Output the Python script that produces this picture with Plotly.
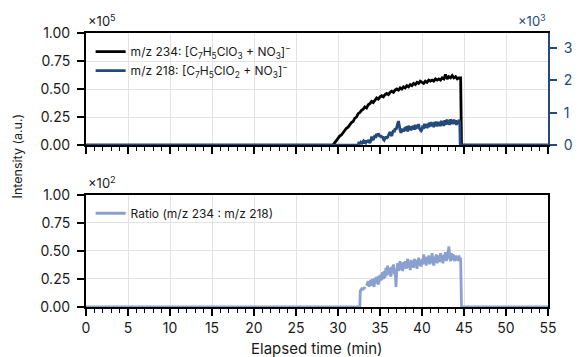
import plotly.graph_objects as go

# ---------------- data ----------------
black_t = [0, 29.4, 29.6, 29.8,
           30.0, 30.2, 30.4, 30.6, 30.8,
           31.0, 31.2, 31.4, 31.6, 31.8,
           32.0, 32.2, 32.4, 32.6, 32.8,
           33.0, 33.2, 33.4, 33.6, 33.8,
           34.0, 34.2, 34.4, 34.6, 34.8,
           35.0, 35.2, 35.4, 35.6, 35.8,
           36.0, 36.2, 36.4, 36.6, 36.8,
           37.0, 37.2, 37.4, 37.6, 37.8,
           38.0, 38.2, 38.4, 38.6, 38.8,
           39.0, 39.2, 39.4, 39.6, 39.8,
           40.0, 40.2, 40.4, 40.6, 40.8,
           41.0, 41.2, 41.4, 41.6, 41.8,
           42.0, 42.2, 42.4, 42.6, 42.8,
           43.0, 43.2, 43.4, 43.6, 43.8,
           44.0, 44.2, 44.4, 44.6, 44.7, 55]
black_v = [0, 0.0, 0.02, 0.04,
           0.06, 0.08, 0.09, 0.11, 0.13,
           0.15, 0.16, 0.18, 0.20, 0.21,
           0.24, 0.25, 0.28, 0.29, 0.31,
           0.32, 0.34, 0.33, 0.36, 0.37,
           0.39, 0.38, 0.40, 0.42, 0.41,
           0.43, 0.44, 0.43, 0.45, 0.46,
           0.45, 0.47, 0.48, 0.47, 0.49,
           0.50, 0.49, 0.51, 0.50, 0.52,
           0.51, 0.53, 0.52, 0.54, 0.53,
           0.55, 0.54, 0.56, 0.55, 0.57,
           0.56, 0.55, 0.57, 0.56, 0.58,
           0.57, 0.58, 0.57, 0.59, 0.58,
           0.59, 0.58, 0.60, 0.59, 0.63,
           0.59, 0.61, 0.60, 0.62, 0.60,
           0.61, 0.59, 0.60, 0.60, 0.0, 0.0]

blue_t = [0, 32.4, 32.5, 32.6, 32.7, 32.8, 32.9,
          33.0, 33.1, 33.2, 33.3, 33.4, 33.5, 33.6, 33.7, 33.8, 33.9,
          34.0, 34.1, 34.2, 34.3, 34.4, 34.5, 34.6, 34.7, 34.8, 34.9,
          35.0, 35.1, 35.2, 35.3, 35.4, 35.5, 35.6, 35.7, 35.8, 35.9,
          36.0, 36.1, 36.2, 36.3, 36.4, 36.5, 36.6, 36.7, 36.8, 36.9,
          37.0, 37.1, 37.2, 37.3, 37.4, 37.5, 37.6, 37.7, 37.8, 37.9,
          38.0, 38.1, 38.2, 38.3, 38.4, 38.5, 38.6, 38.7, 38.8, 38.9,
          39.0, 39.1, 39.2, 39.3, 39.4, 39.5, 39.6, 39.7, 39.8, 39.9,
          40.0, 40.1, 40.2, 40.3, 40.4, 40.5, 40.6, 40.7, 40.8, 40.9,
          41.0, 41.1, 41.2, 41.3, 41.4, 41.5, 41.6, 41.7, 41.8, 41.9,
          42.0, 42.1, 42.2, 42.3, 42.4, 42.5, 42.6, 42.7, 42.8, 42.9,
          43.0, 43.1, 43.2, 43.3, 43.4, 43.5, 43.6, 43.7, 43.8, 43.9,
          44.0, 44.1, 44.2, 44.3, 44.4, 44.5, 44.55, 55]
blue_v = [0, 0.0, 0.10, 0.04, 0.08, 0.03, 0.09,
          0.12, 0.05, 0.10, 0.07, 0.14, 0.08, 0.16, 0.11, 0.06, 0.13,
          0.26, 0.19, 0.15, 0.24, 0.30, 0.22, 0.35, 0.28, 0.36, 0.30,
          0.25, 0.31, 0.22, 0.27, 0.18, 0.15, 0.21, 0.26, 0.20, 0.24,
          0.30, 0.36, 0.40, 0.32, 0.28, 0.38, 0.46, 0.40, 0.52, 0.47,
          0.55, 0.66, 0.74, 0.60, 0.45, 0.38, 0.44, 0.50, 0.42, 0.48,
          0.55, 0.44, 0.58, 0.42, 0.60, 0.47, 0.56, 0.45, 0.59, 0.50,
          0.60, 0.47, 0.63, 0.50, 0.62, 0.52, 0.65, 0.51, 0.47, 0.44,
          0.48, 0.60, 0.50, 0.66, 0.54, 0.64, 0.52, 0.67, 0.55, 0.70,
          0.57, 0.71, 0.58, 0.69, 0.55, 0.71, 0.59, 0.73, 0.57, 0.70,
          0.60, 0.72, 0.58, 0.75, 0.62, 0.73, 0.59, 0.77, 0.63, 0.74,
          0.78, 0.64, 0.76, 0.62, 0.80, 0.66, 0.77, 0.64, 0.79, 0.66,
          0.77, 0.62, 0.75, 0.65, 0.78, 0.70, 0.0, 0.0]

ratio_t = [0, 32.6, 32.65, 32.7, 32.8, 32.9,
           33.0, 33.1, 33.2, 33.3, 33.4, 33.5, 33.6, 33.7, 33.8, 33.9,
           34.0, 34.1, 34.2, 34.3, 34.4, 34.5, 34.6, 34.7, 34.8, 34.9,
           35.0, 35.1, 35.2, 35.3, 35.4, 35.5, 35.6, 35.7, 35.8, 35.9,
           36.0, 36.1, 36.2, 36.3, 36.4, 36.5, 36.6, 36.7, 36.8, 36.9,
           37.0, 37.1, 37.2, 37.3, 37.4, 37.5, 37.6, 37.7, 37.8, 37.9,
           38.0, 38.1, 38.2, 38.3, 38.4, 38.5, 38.6, 38.7, 38.8, 38.9,
           39.0, 39.1, 39.2, 39.3, 39.4, 39.5, 39.6, 39.7, 39.8, 39.9,
           40.0, 40.1, 40.2, 40.3, 40.4, 40.5, 40.6, 40.7, 40.8, 40.9,
           41.0, 41.1, 41.2, 41.3, 41.4, 41.5, 41.6, 41.7, 41.8, 41.9,
           42.0, 42.1, 42.2, 42.3, 42.4, 42.5, 42.6, 42.7, 42.8, 42.9,
           43.0, 43.1, 43.2, 43.3, 43.4, 43.5, 43.6, 43.7, 43.8, 43.9,
           44.0, 44.1, 44.2, 44.3, 44.4, 44.5, 44.6, 44.7, 55]
ratio_v = [0, 0, 0.14, 0.15, 0.16, 0.15,
           0.17, 0.16, 0.18, None, 0.19, 0.21, 0.23, 0.18, 0.22, 0.24,
           0.19, 0.25, 0.21, 0.18, 0.26, 0.21, 0.27, 0.22, 0.20, 0.28,
           0.23, 0.29, 0.24, 0.31, 0.25, 0.32, 0.26, 0.35, 0.28, 0.37,
           0.29, 0.35, 0.30, 0.27, 0.36, 0.31, 0.38, 0.29, 0.34, 0.18,
           0.33, 0.39, 0.32, 0.38, 0.41, 0.33, 0.39, 0.32, 0.40, 0.35,
           0.41, 0.34, 0.39, 0.43, 0.35, 0.40, 0.33, 0.42, 0.36, 0.41,
           0.35, 0.43, 0.37, 0.42, 0.34, 0.40, 0.44, 0.37, 0.41, 0.36,
           0.43, 0.38, 0.47, 0.39, 0.45, 0.37, 0.44, 0.40, 0.46, 0.38,
           0.45, 0.39, 0.48, 0.41, 0.37, 0.45, 0.40, 0.47, 0.39, 0.44,
           0.46, 0.40, 0.48, 0.41, 0.45, 0.39, 0.47, 0.42, 0.49, 0.41,
           0.45, 0.48, 0.54, 0.44, 0.41, 0.48, 0.42, 0.47, 0.43, 0.41,
           0.46, 0.42, 0.45, 0.41, 0.46, 0.42, 0.44, 0.0, 0.0]

x_ticks = [0, 5, 10, 15, 20, 25, 30, 35, 40, 45, 50, 55]
y_ticks = [0.0, 0.25, 0.5, 0.75, 1.0]
y_ticktext = ["0.00", "0.25", "0.50", "0.75", "1.00"]
y2_ticks = [0, 1, 2, 3]

name_234 = "m/z 234: [C<sub>7</sub>H<sub>5</sub>ClO<sub>3</sub> + NO<sub>3</sub>]<sup>−</sup>"
name_218 = "m/z 218: [C<sub>7</sub>H<sub>5</sub>ClO<sub>2</sub> + NO<sub>3</sub>]<sup>−</sup>"
name_ratio = "Ratio (m/z 234 : m/z 218)"

# ---------------- style ----------------
FONT = "Inter"
BLACK = "#000000"
DARK = "#234a7b"
LIGHT = "#8aa0cf"
GRID = "#e3e3e3"
LW = 2.8

fig = go.Figure()
fig.add_trace(go.Scatter(x=black_t, y=black_v, mode="lines", name=name_234,
                         line=dict(color=BLACK, width=LW, simplify=False),
                         xaxis="x", yaxis="y", legend="legend"))
fig.add_trace(go.Scatter(x=blue_t, y=blue_v, mode="lines", name=name_218,
                         line=dict(color=DARK, width=LW, simplify=False),
                         xaxis="x", yaxis="y2", legend="legend"))
fig.add_trace(go.Scatter(x=ratio_t, y=ratio_v, mode="lines", name=name_ratio,
                         line=dict(color=LIGHT, width=LW, simplify=False),
                         xaxis="x2", yaxis="y3", legend="legend2", connectgaps=False))

xcommon = dict(range=[0, 55], tickvals=x_ticks, showgrid=True, gridcolor=GRID,
               gridwidth=1, showline=True, linecolor=BLACK, linewidth=2,
               mirror=True, ticks="outside", ticklen=7, tickwidth=1.5,
               tickcolor=BLACK, zeroline=False, tickfont=dict(size=14),
               minor=dict(dtick=1, ticks="outside", ticklen=3.5, tickwidth=1.2,
                          tickcolor=BLACK, showgrid=False))
ycommon = dict(range=[0, 1.0], tickvals=y_ticks, ticktext=y_ticktext,
               showgrid=True, gridcolor=GRID, gridwidth=1, showline=True,
               linecolor=BLACK, linewidth=2, ticks="outside", ticklen=7,
               tickwidth=1.5, tickcolor=BLACK, zeroline=False, ticklabelstandoff=4,
               tickfont=dict(size=14))

top_dom = [0.591, 1.0]
bot_dom = [0.0, 0.409]

fig.update_layout(
    width=585, height=357,
    margin=dict(l=86, r=23, t=33, b=50),
    paper_bgcolor="white", plot_bgcolor="white",
    font=dict(family=FONT, size=13, color="#1a1a1a"),
    xaxis=dict(domain=[0, 1], anchor="y", showticklabels=False, **xcommon),
    xaxis2=dict(domain=[0, 1], anchor="y3", showticklabels=True, **xcommon),
    yaxis=dict(domain=top_dom, anchor="x", mirror=False, **ycommon),
    yaxis2=dict(domain=top_dom, anchor="x", overlaying="y", side="right",
                range=[0, 3.46], tickvals=y2_ticks, showgrid=False,
                showline=True, linecolor=DARK, linewidth=2, ticks="outside",
                ticklen=7, tickwidth=1.5, tickcolor=DARK, zeroline=False,
                tickfont=dict(color=DARK, size=14), ticklabelstandoff=4),
    yaxis3=dict(domain=bot_dom, anchor="x2", mirror=True, **ycommon),
    legend=dict(x=0.01, y=0.985, xanchor="left", yanchor="top",
                bgcolor="rgba(0,0,0,0)", font=dict(size=12, family=FONT),
                itemwidth=30, tracegroupgap=0),
    legend2=dict(x=0.01, y=0.395, xanchor="left", yanchor="top",
                 bgcolor="rgba(0,0,0,0)", font=dict(size=12, family=FONT),
                 itemwidth=30),
    showlegend=True,
)

fig.add_annotation(text="×10<sup>5</sup>", xref="paper", yref="paper",
                   x=0.0, y=1.0, xanchor="left", yanchor="bottom", yshift=2,
                   showarrow=False, font=dict(size=13, family=FONT))
fig.add_annotation(text="×10<sup>3</sup>", xref="paper", yref="paper",
                   x=1.0, y=1.0, xanchor="right", yanchor="bottom", yshift=2,
                   showarrow=False, font=dict(size=13, family=FONT, color=DARK))
fig.add_annotation(text="×10<sup>2</sup>", xref="paper", yref="paper",
                   x=0.0, y=bot_dom[1], xanchor="left", yanchor="bottom", yshift=2,
                   showarrow=False, font=dict(size=13, family=FONT))
fig.add_annotation(text="Intensity (a.u.)", xref="paper", yref="paper",
                   x=-0.149, y=0.55, xanchor="center", yanchor="middle",
                   textangle=-90, showarrow=False, font=dict(size=12.5, family=FONT))
fig.add_annotation(text="Elapsed time (min)", xref="paper", yref="paper",
                   x=0.5, y=0, yshift=-41, xanchor="center", yanchor="middle",
                   showarrow=False, font=dict(size=15, family=FONT))

fig.write_html("out.html")
